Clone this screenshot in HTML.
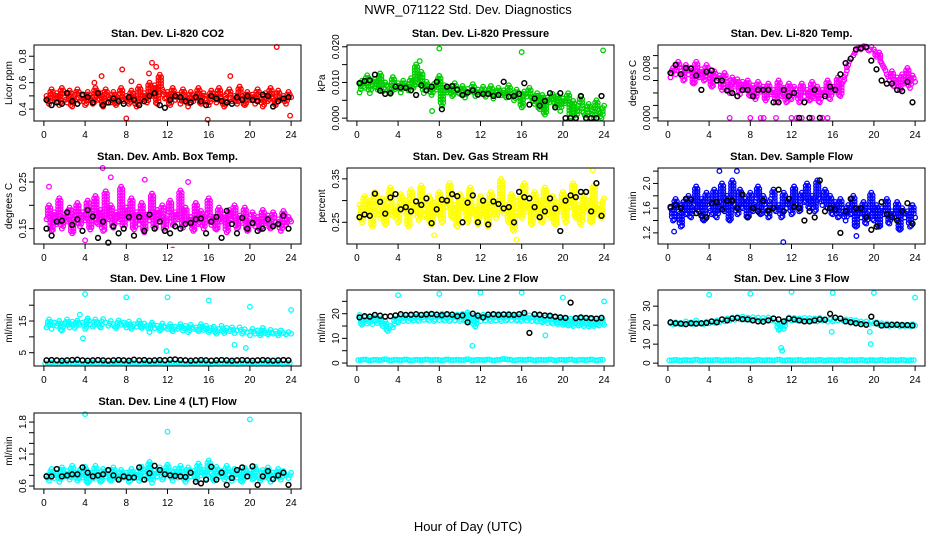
<!DOCTYPE html>
<html><head><meta charset="utf-8"><title>NWR_071122 Std. Dev. Diagnostics</title>
<style>
html,body{margin:0;padding:0;background:#fff;}
svg{display:block;font-family:"Liberation Sans",Arial,sans-serif;}
</style></head>
<body>
<svg id="chart" width="936" height="540" viewBox="0 0 936 540">
<text x="468" y="14" text-anchor="middle" font-size="13">NWR_071122  Std. Dev. Diagnostics</text>
<text x="468" y="531" text-anchor="middle" font-size="13">Hour of Day (UTC)</text>
</svg>
<script>
// ---- data (colored = all samples, black = averaged) ----
const xTicks = [0,4,8,12,16,20,24];
const co2Vals = [0.50,0.44,0.55,0.47,0.52,0.43,0.56,0.49,0.45,0.54,0.42,0.51,0.55,0.46,0.50,0.43,0.53,0.48,0.44,0.56,0.47,0.52,0.42,0.55,0.49,0.45,0.53,0.43,0.51,0.56,0.46,0.50,0.44,0.54,0.48,0.42,0.57,0.47,0.52,0.45,0.60,0.50,0.58,0.44,0.66,0.55,0.48,0.53,0.43,0.56,0.47,0.51,0.44,0.55,0.49,0.42,0.53,0.46,0.50,0.56,0.44,0.52,0.47,0.43,0.54,0.49,0.45,0.56,0.48,0.42,0.52,0.55,0.46,0.50,0.44,0.57,0.48,0.43,0.53,0.47,0.51,0.44,0.55,0.49,0.42,0.52,0.46,0.56,0.48,0.43,0.54,0.47,0.50,0.44,0.53,0.49];
const co2Avg = [0.47,0.43,0.45,0.44,0.52,0.46,0.44,0.51,0.49,0.45,0.52,0.43,0.45,0.48,0.46,0.44,0.49,0.47,0.43,0.46,0.50,0.52,0.43,0.41,0.47,0.50,0.49,0.46,0.45,0.49,0.46,0.43,0.50,0.48,0.46,0.45,0.44,0.49,0.47,0.50,0.47,0.46,0.51,0.50,0.42,0.46,0.48,0.49];
const co2OutX = [7.6,5.6,10.5,10.9,10.2,22.6,8,15.9,23.9,18.1,8.5,4.9];
const co2OutY = [0.70,0.65,0.75,0.72,0.67,0.87,0.33,0.32,0.35,0.65,0.61,0.60];

const presVals = [.0072,.0105,.0085,.0120,.0070,.0095,.0110,.0080,.0125,.0075,.0100,.0088,.0068,.0115,.0082,.0098,.0072,.0105,.0090,.0078,.0112,.0085,.0150,.0095,.0130,.0070,.0102,.0088,.0065,.0096,.0080,.0118,.0035,.0092,.0072,.0085,.0062,.0098,.0078,.0068,.0090,.0058,.0082,.0074,.0095,.0062,.0080,.0070,.0088,.0060,.0076,.0090,.0055,.0072,.0085,.0064,.0078,.0058,.0092,.0068,.0050,.0080,.0062,.0030,.0075,.0060,.0085,.0055,.0040,.0070,.0025,.0065,.0010,.0058,.0045,.0068,.0035,.0062,.0020,.0055,.0042,.0070,.0005,.0048,.0000,.0035,.0060,.0015,.0000,.0040,.0025,.0000,.0050,.0020,.0000,.0035];
const presAvg = [.0098,.0104,.0106,.0122,.0077,.0068,.0070,.0088,.0086,.0085,.0078,.0065,.0092,.0078,.0088,.0102,.0025,.0088,.0090,.0080,.0065,.0072,.0078,.0066,.0068,.0068,.0062,.0065,.0102,.0060,.0062,.0068,.0098,.0038,.0055,.0035,.0048,.0070,.0030,.0070,.0000,.0000,.0000,.0062,.0000,.0000,.0000,.0062];
const presOutX = [8,16,23.9,6.1,7.3];
const presOutY = [.0195,.0185,.019,.016,.002];

const tempVals = [.0065,.0080,.0070,.0090,.0075,.0060,.0085,.0070,.0080,.0055,.0090,.0065,.0078,.0060,.0085,.0072,.0050,.0075,.0060,.0068,.0045,.0072,.0058,.0040,.0065,.0050,.0062,.0038,.0058,.0045,.0060,.0035,.0052,.0030,.0058,.0042,.0050,.0028,.0055,.0038,.0045,.0025,.0060,.0035,.0048,.0025,.0055,.0030,.0050,.0040,.0025,.0055,.0035,.0045,.0028,.0058,.0032,.0050,.0025,.0045,.0038,.0060,.0030,.0050,.0042,.0065,.0035,.0058,.0070,.0085,.0095,.0100,.0108,.0112,.0110,.0115,.0112,.0108,.0114,.0110,.0098,.0105,.0088,.0080,.0070,.0060,.0075,.0050,.0065,.0045,.0070,.0055,.0080,.0048,.0068,.0058];
const tempAvg = [.0072,.0085,.0070,.0080,.0079,.0068,.0045,.0074,.0076,.0060,.0060,.0044,.0040,.0035,.0045,.0045,.0035,.0045,.0045,.0045,.0025,.0025,.0045,.0035,.0040,.0000,.0025,.0000,.0045,.0000,.0035,.0050,.0045,.0070,.0088,.0095,.0110,.0112,.0114,.0092,.0078,.0060,.0055,.0055,.0045,.0043,.0058,.0025];
const tempOutX = [6,8,9,9.3,10.5,12,12.5,13,14,15,15.5];
const tempOutY = [0,0,0,0,0,0,0,0,0,0,0];

const boxVals = [.170,.200,.145,.185,.160,.215,.150,.180,.165,.195,.140,.175,.205,.155,.185,.168,.210,.148,.178,.220,.160,.190,.145,.230,.170,.200,.152,.185,.165,.240,.150,.195,.172,.215,.148,.185,.160,.205,.142,.180,.168,.225,.150,.190,.165,.200,.145,.178,.210,.158,.185,.170,.232,.152,.195,.165,.175,.145,.205,.160,.188,.150,.180,.215,.158,.175,.148,.195,.165,.180,.142,.190,.168,.200,.150,.178,.162,.195,.145,.172,.185,.155,.175,.148,.190,.162,.178,.150,.185,.165,.170,.145,.188,.158,.175,.165];
const boxAvg = [.150,.135,.165,.167,.185,.158,.170,.145,.190,.176,.130,.165,.120,.155,.140,.150,.175,.135,.175,.145,.180,.150,.165,.145,.140,.155,.150,.160,.162,.170,.172,.140,.165,.175,.130,.188,.160,.140,.173,.150,.162,.145,.150,.170,.155,.160,.178,.150];
const boxOutX = [5.7,0.5,6.5,12.5,4,9.8,14];
const boxOutY = [.28,.24,.26,.105,.125,.255,.25];

const rhVals = [.290,.250,.310,.270,.300,.240,.320,.280,.260,.305,.245,.295,.330,.265,.285,.250,.315,.275,.300,.240,.325,.270,.290,.255,.335,.280,.260,.310,.245,.295,.270,.320,.250,.300,.285,.340,.260,.290,.240,.315,.275,.300,.250,.330,.270,.285,.245,.310,.265,.295,.240,.320,.280,.260,.300,.350,.270,.290,.250,.315,.230,.285,.305,.260,.340,.275,.295,.245,.320,.265,.300,.250,.330,.280,.260,.310,.245,.295,.275,.320,.250,.300,.285,.340,.260,.290,.245,.315,.275,.300,.250,.335,.270,.290,.260,.305];
const rhAvg = [.262,.268,.265,.316,.297,.270,.307,.315,.280,.285,.275,.298,.290,.305,.248,.280,.302,.300,.315,.310,.250,.295,.312,.250,.300,.245,.298,.292,.282,.285,.250,.320,.308,.305,.285,.262,.275,.305,.282,.230,.300,.312,.308,.320,.320,.275,.340,.265];
const rhOutX = [15.5,22.9,7.5];
const rhOutY = [.21,.37,.22];

const flowVals = [1.60,1.40,1.75,1.55,1.30,1.70,1.50,1.80,1.45,1.65,1.95,1.55,1.75,1.40,1.85,1.60,1.50,1.90,1.45,1.70,2.00,1.55,1.80,1.40,2.05,1.65,1.50,1.90,1.60,1.75,1.45,1.85,1.55,1.70,1.95,1.50,1.80,1.60,1.45,1.75,1.90,1.55,1.65,1.45,1.85,1.60,1.75,1.50,1.95,1.65,1.55,1.85,1.70,2.00,1.60,1.80,1.55,2.05,1.75,1.65,1.90,1.60,1.80,1.50,1.70,1.45,1.75,1.55,1.40,1.65,1.50,1.80,1.30,1.60,1.45,1.70,1.35,1.55,1.85,1.40,1.65,1.30,1.60,1.50,1.75,1.35,1.55,1.45,1.70,1.25,1.60,1.45,1.55,1.30,1.65,1.45];
const flowAvg = [1.62,1.65,1.60,1.75,1.74,1.52,1.48,1.45,1.68,1.70,1.58,1.72,1.72,1.60,1.82,1.45,1.60,1.55,1.72,1.56,1.60,1.90,1.55,1.75,1.62,1.60,1.40,1.55,1.45,2.05,1.55,1.60,1.58,1.20,1.55,1.75,1.60,1.60,1.45,1.25,1.30,1.70,1.50,1.45,1.40,1.55,1.68,1.35];
const flowOutX = [5,6.7,11.2,18.3,0.6];
const flowOutY = [2.2,2.2,1.05,1.15,1.22];

const l1Vals = [13,15.5,12.5,14.5,13.5,15,12,14,15.5,13,14.8,12.8,15.2,13.8,14.5,12.5,15.8,14,13.2,15.5,14.2,13,15.6,14.5,13.5,15,14,12.8,15.2,13.8,14.5,13,14.8,12.5,14,13.2,15,12.8,14.2,13.5,11.5,14.5,12.8,13.5,12,14.2,13,12.5,14,11.8,13.2,12.5,14,12,13.5,11.5,13.8,12.5,13,11.8,14,12.2,13.5,11.5,12.8,13.2,11,12.5,13.5,11.2,12.8,11.8,13,11.2,12,13,11,12.4,11.5,10.5,12.5,11,12,10.5,12.8,11.2,10.8,12.2,11,11.8,10.5,12,11.2,10.8,11.5,11];
const l1Low = [1.6,1.8,1.5,1.9,1.7,1.6,1.8,1.5,1.7,1.9,1.6,1.8,1.5,1.7,1.8,1.6,1.9,1.7,1.5,1.8,1.6,1.7,1.9,1.5,1.8,1.6,1.7,1.5,1.8,1.6,1.9,1.7,1.5,1.8,1.6,1.7,1.9,1.5,1.7,1.6,1.8,1.5,1.7,1.9,1.6,1.8,1.5,1.7];
const l1Avg = [2.6,2.7,2.6,2.5,2.6,2.7,2.8,2.6,2.5,2.6,2.7,2.6,2.5,2.6,2.7,2.6,2.5,2.8,2.6,2.7,2.5,2.6,2.7,2.6,2.8,2.9,2.7,2.6,2.5,2.6,2.7,2.6,2.5,2.6,2.7,2.6,2.5,2.6,2.7,2.6,2.5,2.6,2.7,2.6,2.5,2.6,2.7,2.6];
const l1OutX = [4,8,12,16,20,24,3.5,3.8,11.9,18.5,19.6];
const l1OutY = [23.5,22.5,22.5,21.5,19.5,18.5,17,9.5,5.5,7.5,6.5];

const l2Vals = [19.5,15.5,18.5,16,19,15.8,19.5,16.2,18,15,17,13,15,14.5,18,16.5,19,17,19.5,17,19.2,17.2,19.8,17,19.5,17.5,20,17.2,19.6,17,19.8,17.4,20,17.2,19.5,17,19.8,17.3,19.6,17,19.9,17.2,20.5,16.5,19,14.8,19.5,17,19.6,17.2,19.8,17,19.5,17.3,19.9,17,19.6,17.2,20,17.4,19.7,17.1,19.8,17,19.5,17.2,19.3,17,19.6,16.8,19.2,16.5,18.5,16.2,18.8,16,18.5,15.8,18.7,15.5,18.2,15.2,18,15,18.3,15.2,18,15,18.2,14.8,17.8,15,18,15.2,18.5,15.5];
const l2Low = [1.2,1.4,1.1,1.3,1.2,1.5,1.1,1.3,1.2,1.4,1.1,1.3,1.2,1.4,1.2,1.3,1.1,1.4,1.2,1.3,1.2,1.5,1.1,1.3,1.2,1.4,1.1,1.3,1.6,1.4,1.1,1.3,1.2,1.4,1.1,1.3,1.2,1.4,1.1,1.3,1.2,1.4,1.1,1.3,1.2,1.4,1.1,1.3];
const l2Avg = [18.5,19,18.8,19.5,19.2,18.8,19,19.3,19.8,19.5,19.6,19.8,19.5,19.7,19.9,19.6,19.4,19.8,19.6,19,19.3,16.5,20,19.2,18.5,19.6,19.8,19.5,19.7,19.6,19.5,19.8,20.3,12.2,19.8,19.6,19.3,19.2,18.8,18.5,18.3,24.5,18.2,18.5,18.3,18.2,18,18.3];
const l2OutX = [4,8,12,16,20,24,11.2,18.3,11.5];
const l2OutY = [27.5,28,28.5,28.5,26.5,25,7,11.2,14.8];

const l3Vals = [21,20.5,21.5,20.8,21.2,20.5,22,21,21.5,20.7,22.5,21,21.2,20.6,21.8,21,22,21.3,22.5,21.5,23,22,23.5,22.5,24,22.8,24.2,23,24.5,23,24,22.8,24.2,23,24,22.5,23.8,22.6,24,22.5,23.5,22,17.5,21,18,22.5,24,22.5,23.8,22.6,23.5,22.4,23.8,22.5,23.6,22.2,23.5,22,23.8,22.4,23.2,21.8,23,22,24,22.5,23.5,22.5,23,22,22.8,21.5,22.5,21.2,22,21,22,20.5,21.8,20.8,21.5,20.2,21,19.8,20.8,19.6,20.5,19.8,20.6,19.5,20.4,19.6,20.2,19.5,20.5,19.8];
const l3Low = [1.5,1.7,1.4,1.6,1.5,1.8,1.4,1.6,1.5,1.7,1.4,1.6,1.5,1.7,1.5,1.6,1.4,1.7,1.5,1.6,1.5,1.8,1.4,1.6,1.5,1.7,1.4,1.6,1.5,1.7,1.4,1.6,1.5,1.7,1.4,1.6,1.5,1.7,1.4,1.6,1.5,1.7,1.4,1.6,1.5,1.7,1.4,1.6];
const l3Avg = [21.5,21,20.8,20.5,21,20.8,21,21.2,22,21.5,23,22.5,23.5,23.8,23.2,23,22.5,22,21.8,22.5,23.5,23,22,23.5,23,22.5,22,22,22.5,23,22.8,26,24,23.5,22,21.5,21,20.5,20.2,24.5,21,19.8,20,20.2,20.2,20,20,19.8];
const l3OutX = [4,8,12,16,20,24,11,11.1,19.7,15.9,19.6];
const l3OutY = [36,36.5,37.5,37,37,34.5,8,6.5,10,16.5,16.5];

const l4Vals = [0.80,0.70,0.92,0.75,0.85,0.68,0.95,0.78,0.88,0.72,0.98,0.80,0.70,0.90,0.76,0.96,0.66,0.85,0.74,0.98,0.82,0.68,0.92,0.78,0.88,0.70,0.95,0.80,0.72,0.90,0.76,0.85,0.68,0.92,0.78,0.86,0.70,0.96,0.80,0.74,1.05,0.66,0.88,0.78,0.95,0.72,0.86,1.00,0.80,0.70,0.92,0.76,0.98,0.82,0.68,0.95,0.78,0.88,0.72,1.02,0.80,0.90,0.74,1.08,0.84,0.70,0.96,0.78,0.88,0.72,0.98,0.80,0.70,0.92,0.76,0.86,0.68,0.94,0.78,0.88,0.72,0.96,0.80,0.70,0.90,0.76,0.95,0.68,0.85,0.78,0.92,0.72,0.88,0.80,0.75,0.85];
const l4Avg = [0.78,0.78,0.92,0.78,0.80,0.82,0.82,0.95,0.85,0.78,0.80,0.82,0.90,0.80,0.72,0.78,0.76,0.76,0.95,0.72,0.84,0.98,0.90,0.82,0.80,0.79,0.78,0.77,0.85,0.68,0.65,0.72,0.96,0.72,0.85,0.62,0.75,0.90,0.95,0.78,0.97,0.62,0.78,0.88,0.73,0.80,0.85,0.62];
const l4OutX = [4,12,20];
const l4OutY = [1.95,1.62,1.85];

// ---- panel layout ----
const colLeft = [34,347,658];
const rowTop = [45,168,290,413];
const PW = 267, PH = 76;
const NS = 'http://www.w3.org/2000/svg';
const svg = document.getElementById('chart');

const panels = [
 {name:'co2',title:'Stan. Dev. Li-820 CO2',ylab:'Licor ppm',c:0,r:0,ymin:0.31,ymax:0.885,ticks:[0.4,0.5,0.6,0.7,0.8],labels:[0.4,0.6,0.8],dec:1,col:'#ff0000',vals:co2Vals,avg:co2Avg,ox:co2OutX,oy:co2OutY},
 {name:'pressure',title:'Stan. Dev. Li-820 Pressure',ylab:'kPa',c:1,r:0,ymin:-0.0008,ymax:0.0205,ticks:[0,0.005,0.01,0.015,0.02],labels:[0,0.01,0.02],dec:3,col:'#00cd00',vals:presVals,avg:presAvg,ox:presOutX,oy:presOutY},
 {name:'temp',title:'Stan. Dev. Li-820 Temp.',ylab:'degrees C',c:2,r:0,ymin:-0.0005,ymax:0.0117,ticks:[0,0.002,0.004,0.006,0.008,0.01],labels:[0,0.008],dec:3,col:'#ff00ff',vals:tempVals,avg:tempAvg,ox:tempOutX,oy:tempOutY},
 {name:'box-temp',title:'Stan. Dev. Amb. Box Temp.',ylab:'degrees C',c:0,r:1,ymin:0.117,ymax:0.28,ticks:[0.15,0.2,0.25],labels:[0.15,0.25],dec:2,col:'#ff00ff',vals:boxVals,avg:boxAvg,ox:boxOutX,oy:boxOutY},
 {name:'rh',title:'Stan. Dev. Gas Stream RH',ylab:'percent',c:1,r:1,ymin:0.20,ymax:0.375,ticks:[0.25,0.3,0.35],labels:[0.25,0.35],dec:2,col:'#ffff00',vals:rhVals,avg:rhAvg,ox:rhOutX,oy:rhOutY},
 {name:'sample-flow',title:'Stan. Dev. Sample Flow',ylab:'ml/min',c:2,r:1,ymin:1.02,ymax:2.25,ticks:[1.2,1.4,1.6,1.8,2.0,2.2],labels:[1.2,1.6,2.0],dec:1,col:'#0000ff',vals:flowVals,avg:flowAvg,ox:flowOutX,oy:flowOutY},
 {name:'line1',title:'Stan. Dev. Line 1 Flow',ylab:'ml/min',c:0,r:2,ymin:0.8,ymax:24.8,ticks:[5,10,15,20],labels:[5,15],dec:0,col:'#00ffff',vals:l1Vals,low:l1Low,avg:l1Avg,ox:l1OutX,oy:l1OutY},
 {name:'line2',title:'Stan. Dev. Line 2 Flow',ylab:'ml/min',c:1,r:2,ymin:-1.2,ymax:29.6,ticks:[0,5,10,15,20,25],labels:[0,10,20],dec:0,col:'#00ffff',vals:l2Vals,low:l2Low,avg:l2Avg,ox:l2OutX,oy:l2OutY},
 {name:'line3',title:'Stan. Dev. Line 3 Flow',ylab:'ml/min',c:2,r:2,ymin:-1.5,ymax:38.5,ticks:[0,10,20,30],labels:[0,10,20,30],dec:0,col:'#00ffff',vals:l3Vals,low:l3Low,avg:l3Avg,ox:l3OutX,oy:l3OutY},
 {name:'line4',title:'Stan. Dev. Line 4 (LT) Flow',ylab:'ml/min',c:0,r:3,ymin:0.544,ymax:1.97,ticks:[0.6,0.8,1.0,1.2,1.4,1.6,1.8],labels:[0.6,1.2,1.8],dec:1,col:'#00ffff',vals:l4Vals,avg:l4Avg,ox:l4OutX,oy:l4OutY}
];

function mk(tag, attrs, parent){
  const e = document.createElementNS(NS, tag);
  for (const k in attrs) e.setAttribute(k, attrs[k]);
  (parent||svg).appendChild(e);
  return e;
}

panels.forEach(p => {
  const L = colLeft[p.c], T = rowTop[p.r];
  const xs = h => L + (h + 0.96) / 25.92 * PW;
  const ys = v => T + PH - (v - p.ymin) / (p.ymax - p.ymin) * PH;
  const g = mk('g', {});
  
  

  const clipId = 'clip-' + p.name;
  const cp = mk('clipPath', {id: clipId}, g);
  mk('rect', {x: L - 4, y: T - 4, width: PW + 8, height: PH + 8}, cp);

  const title = mk('text', {x: L + PW/2, y: T - 8, 'text-anchor':'middle', 'font-size':'11', 'font-weight':'bold'}, g);
  title.textContent = p.title;
  
  

  const yl = mk('text', {x: 0, y: 0, 'text-anchor':'middle', 'font-size':'10', transform:`translate(${L-22},${T+PH/2}) rotate(-90)`}, g);
  yl.textContent = p.ylab;
  
  

  const pts = mk('g', {'clip-path': `url(#${clipId})`, fill:'none', 'stroke-width':'1.3'}, g);
  
  
  const n = p.vals.length;
  // dense sample cloud: fill between consecutive samples
  for (let i = 0; i < n - 1; i++) {
    const a = p.vals[i], b = p.vals[i + 1];
    const y1 = ys(Math.max(a, b)), y2 = ys(Math.min(a, b));
    const cx = xs((i + 1.5) * 24 / n);
    for (let y = y1 + 2.5; y < y2 - 1; y += 3) {
      const c = mk('circle', {cx: cx.toFixed(1), cy: y.toFixed(1), r: 2.3, stroke: p.col}, pts);
      
      
    }
  }
  p.vals.forEach((v, i) => {
    const c = mk('circle', {cx: xs((i + 1) * 24 / n).toFixed(1), cy: ys(v).toFixed(1), r: 2.3, stroke: p.col}, pts);
    
    
  });
  if (p.low) {
    const m = p.low.length;
    p.low.forEach((v, i) => {
      [0.25, 0.75].forEach(off => {
        const c = mk('circle', {cx: xs((i + off) * 24 / m).toFixed(1), cy: ys(v).toFixed(1), r: 2.3, stroke: p.col}, pts);
        
        
      });
    });
  }
  p.ox.forEach((h, i) => {
    const c = mk('circle', {cx: xs(h).toFixed(1), cy: ys(p.oy[i]).toFixed(1), r: 2.3, stroke: p.col}, pts);
    
    
  });
  const k = p.avg.length;
  p.avg.forEach((v, i) => {
    const c = mk('circle', {cx: xs((i + 0.5) * 24 / k).toFixed(1), cy: ys(v).toFixed(1), r: 2.4, stroke: '#000', 'stroke-width':'1.5'}, pts);
    
    
  });

  const fr = mk('rect', {x: L, y: T, width: PW, height: PH, fill:'none', stroke:'#000', 'stroke-width':'1'}, g);
  
  

  const xa = mk('g', {}, g);
  
  
  mk('line', {x1: xs(0), x2: xs(24), y1: T+PH, y2: T+PH, stroke:'#000'}, xa);
  xTicks.forEach(t => {
    mk('line', {x1: xs(t), x2: xs(t), y1: T+PH, y2: T+PH+5, stroke:'#000'}, xa);
    const tx = mk('text', {x: xs(t), y: T+PH+17, 'text-anchor':'middle', 'font-size':'10'}, xa);
    tx.textContent = t;
    
    
  });

  const ya = mk('g', {}, g);
  
  
  p.ticks.forEach(t => {
    const y = ys(t);
    if (y < T - 1 || y > T + PH + 1) return;
    mk('line', {x1: L - 5, x2: L, y1: y, y2: y, stroke:'#000'}, ya);
  });
  p.labels.forEach(t => {
    const y = ys(t);
    const tx = mk('text', {x: 0, y: 0, 'text-anchor':'middle', 'font-size':'10', transform:`translate(${L-8},${y}) rotate(-90)`}, ya);
    tx.textContent = t.toFixed(p.dec);
    
    
  });
});
</script>
</body></html>
